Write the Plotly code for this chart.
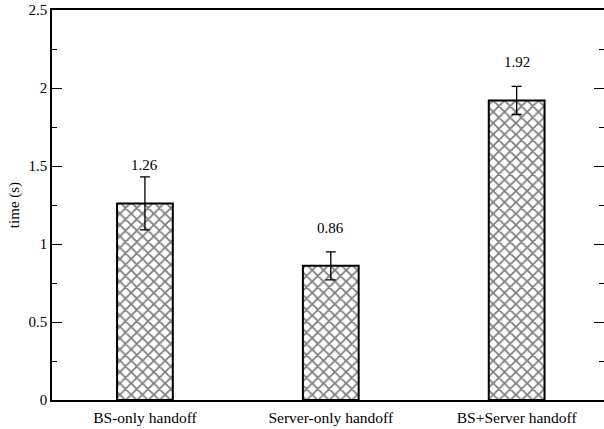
import plotly.graph_objects as go

# handoff latency measurements
categories = ["BS-only handoff", "Server-only handoff", "BS+Server handoff"]
mean_time = [1.26, 0.86, 1.92]
err_time = [0.17, 0.09, 0.09]
tick_vals = [0, 0.5, 1, 1.5, 2, 2.5]
tick_text = ["0", "0.5", "1", "1.5", "2", "2.5"]

xpos = [1, 2, 3]
serif = "Times New Roman"

fig = go.Figure()
fig.add_trace(go.Bar(
    x=xpos,
    y=mean_time,
    width=0.3,
    marker=dict(
        color="white",
        line=dict(color="black", width=2),
        pattern=dict(shape="x", fgcolor="black", bgcolor="white", size=8, solidity=0.4),
    ),
    error_y=dict(type="data", array=err_time, visible=True, color="black", thickness=1.3, width=5),
    showlegend=False,
))

# ticks on the right edge (no axis line there)
fig.add_trace(go.Scatter(x=[None], y=[None], yaxis="y2", showlegend=False))

for xv, v in zip(xpos, mean_time):
    fig.add_annotation(
        x=xv, y=v, text=f"{v:.2f}", showarrow=False, yshift=38,
        font=dict(family=serif, size=15, color="black"),
    )

fig.update_layout(
    width=604, height=429,
    margin=dict(l=52, r=0, t=10, b=29),
    paper_bgcolor="white", plot_bgcolor="white",
    font=dict(family=serif, size=15, color="black"),
    xaxis=dict(
        range=[0.5, 3.47],
        tickmode="array", tickvals=xpos, ticktext=categories,
        ticks="", showgrid=False, zeroline=False,
        showline=True, linecolor="black", linewidth=1.5, mirror=True,
        tickfont=dict(family=serif, size=15.5, color="black"),
        ticklabelstandoff=3,
    ),
    yaxis=dict(
        range=[0, 2.5],
        tickmode="array", tickvals=tick_vals, ticktext=tick_text,
        ticks="inside", ticklen=10, tickwidth=1, tickcolor="black",
        minor=dict(dtick=0.25, ticks="inside", ticklen=5, tickwidth=1, tickcolor="black"),
        showgrid=False, zeroline=False,
        showline=True, linecolor="black", linewidth=1.5,
        title=dict(text="time (s)", font=dict(family=serif, size=15, color="black"), standoff=5),
        tickfont=dict(family=serif, size=15, color="black"),
    ),
    yaxis2=dict(
        overlaying="y", side="right", range=[0, 2.5],
        tickmode="array", tickvals=tick_vals,
        ticks="inside", ticklen=10, tickwidth=1, tickcolor="black",
        minor=dict(dtick=0.25, ticks="inside", ticklen=5, tickwidth=1, tickcolor="black"),
        showticklabels=False, showgrid=False, zeroline=False, showline=False,
    ),
)

fig.write_html("out.html")
